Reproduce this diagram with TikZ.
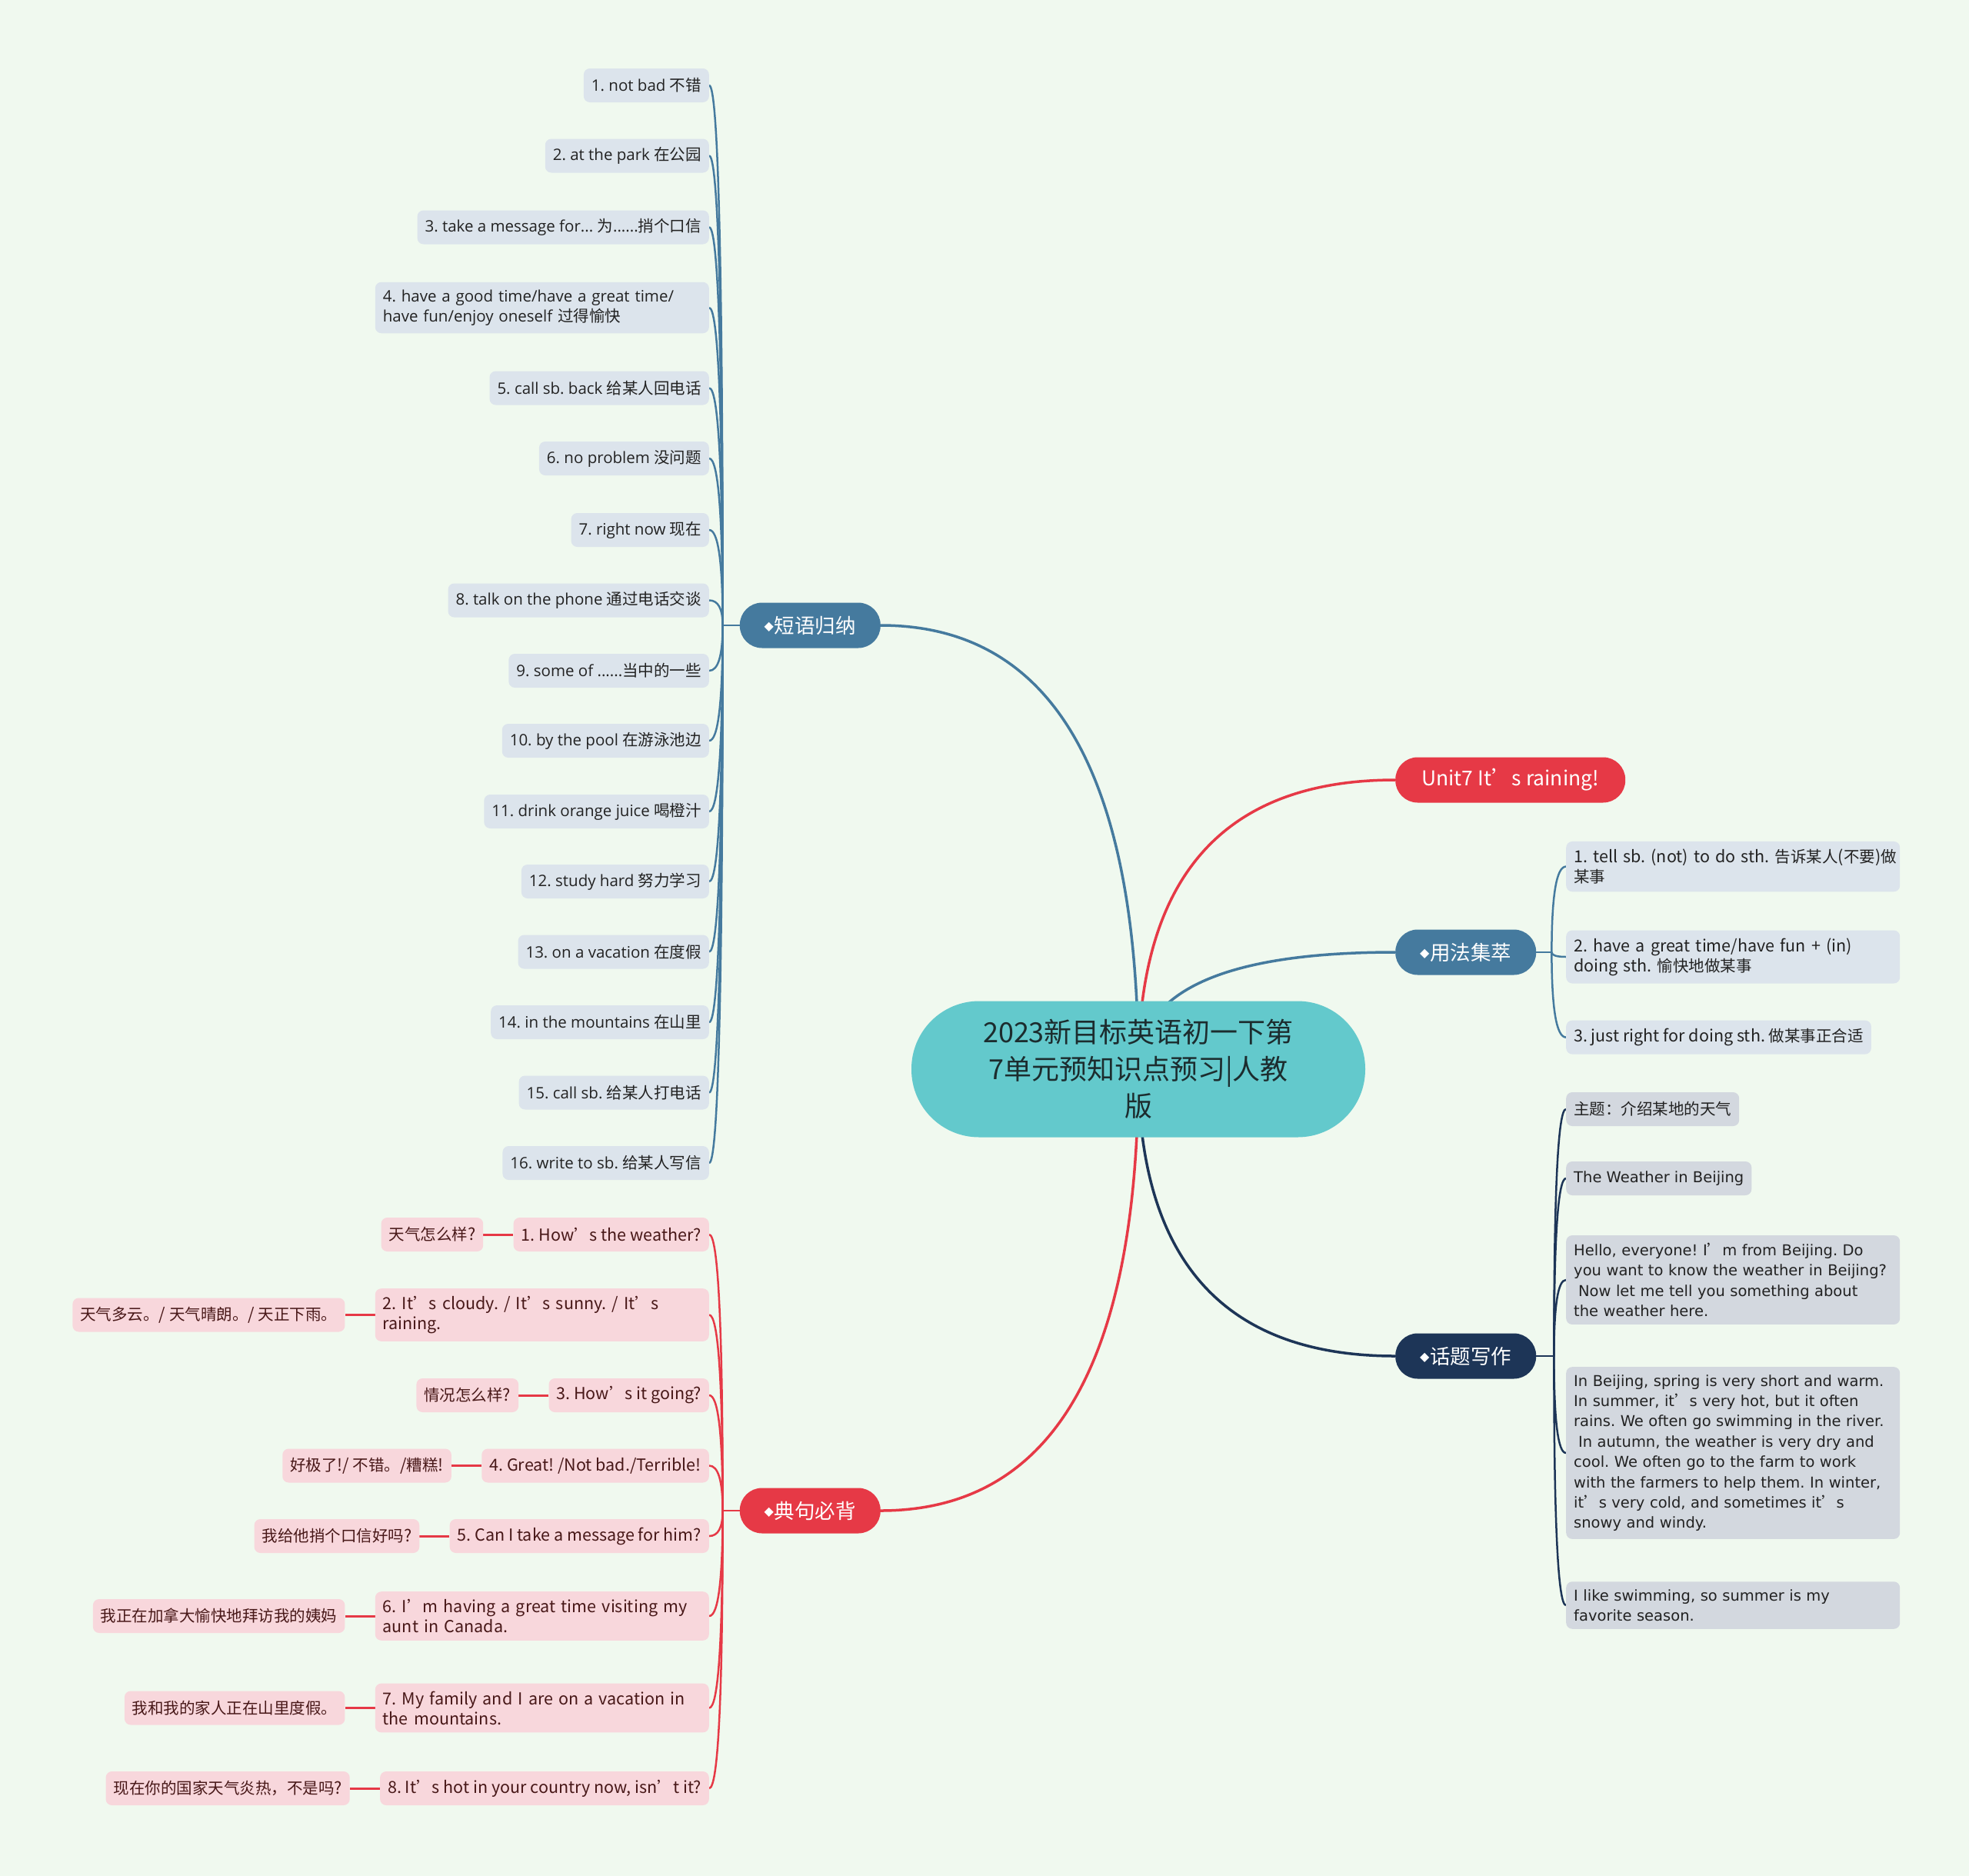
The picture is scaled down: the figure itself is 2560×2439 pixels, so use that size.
\documentclass[tikz,border=0pt]{standalone}
\usepackage{fontspec}
\setmainfont{Open Sans}
\newfontfamily\cjkf{Noto Sans CJK SC}
\newfontfamily\cjklat{Noto Sans CJK SC}[Scale=1.05]
\newfontfamily\osans{Open Sans}
\newfontfamily\djv{DejaVu Sans}
\usetikzlibrary{positioning,calc}
\pgfdeclarelayer{bg}
\pgfdeclarelayer{edges}
\pgfsetlayers{bg,edges,main}
\frenchspacing

% CJK characters switch to the CJK font by themselves
\XeTeXinterchartokenstate=1
\newXeTeXintercharclass\cjkcls
\newcount\cjkn
\newcommand\setcjk[2]{\cjkn=#1\relax
  \loop\XeTeXcharclass\cjkn=\cjkcls
  \ifnum\cjkn<#2\advance\cjkn by 1\repeat}
\setcjk{"3000}{"303F}
\setcjk{"4E00}{"9FFF}
\setcjk{"FF00}{"FFEF}
\XeTeXcharclass"2019=\cjkcls
\def\latf{\osans}
\XeTeXinterchartoks 0 \cjkcls={\cjkf}
\XeTeXinterchartoks 4095 \cjkcls={\cjkf}
\XeTeXinterchartoks \cjkcls 0={\latf}
\XeTeXinterchartoks \cjkcls 4095={\latf}

\definecolor{bgc}{RGB}{240,249,239}
\definecolor{rootc}{RGB}{99,201,204}
\definecolor{roottext}{RGB}{28,44,46}
\definecolor{bluec}{RGB}{69,122,158}
\definecolor{redc}{RGB}{230,57,70}
\definecolor{navyc}{RGB}{29,53,87}
\definecolor{leafblue}{RGB}{220,228,236}
\definecolor{leafgrey}{RGB}{211,216,223}
\definecolor{leafpink}{RGB}{248,215,220}
\definecolor{leaftext}{RGB}{34,34,34}
\definecolor{redtext}{RGB}{72,24,24}

\newcommand\leafsize{\fontsize{20.5}{26}\selectfont}
\newcommand\dm{\raisebox{3.5pt}{\djv\fontsize{16}{16}\selectfont ◆}\hspace{1pt}}
% quadratic curve from #2 to #3, bending at (#2 |- #3)
\newcommand\qlink[3][]{\draw[#1] (#2) .. controls ($(#2)!2/3!(#2|-#3)$) and ($(#3)!2/3!(#2|-#3)$) .. (#3);}

\tikzset{
  root/.style={fill=rootc, text=roottext, rounded corners=88pt,
    minimum width=590pt, minimum height=177pt, align=center,
    font={\fontsize{36}{48}\selectfont\cjkf\def\latf{\cjkf}}},
  branch/.style={text=white, rounded corners=29pt, minimum width=183pt,
    minimum height=59pt, inner xsep=22pt,
    font={\fontsize{26.5}{30}\selectfont\cjkf\def\latf{\cjkf}}},
  leaf/.style={text=leaftext, rounded corners=8pt, inner xsep=10pt,
    inner ysep=10pt, minimum height=44pt},
  leafb/.style={leaf, fill=leafblue, font={\leafsize\osans\def\latf{\osans}}},
  leafu/.style={leaf, fill=leafblue, font={\leafsize\cjklat\def\latf{\cjklat}}},
  leafw/.style={leaf, fill=leafgrey,
    font={\fontsize{19.5}{26.4}\selectfont\djv\def\latf{\djv}}},
  leafr/.style={leaf, fill=leafpink, text=redtext,
    font={\leafsize\cjklat\def\latf{\cjklat}}},
  wide/.style={text width=414pt, align=left},
  trunk/.style={line width=3.5pt},
  twig/.style={line width=2.5pt}
}

\begin{document}
\begin{tikzpicture}[x=1pt, y=-1pt]
  \begin{pgfonlayer}{bg}
    \fill[bgc] (0,0) rectangle (2560,2439);
  \end{pgfonlayer}
  \useasboundingbox (0,0) rectangle (2560,2439);

  % centre and main branches
  \node[root] (root) at (1480,1390) {2023新目标英语初一下第\\7单元预知识点预习|人教\\版};
  \node[branch, fill=bluec, anchor=east] (dy) at (1145,813) {\dm{}短语归纳};
  \node[branch, fill=redc, anchor=west, minimum width=299pt] (unit) at (1814,1014) {Unit7 It’s raining!};
  \node[branch, fill=bluec, anchor=west] (yf) at (1814,1238) {\dm{}用法集萃};
  \node[branch, fill=navyc, anchor=west] (ht) at (1814,1763) {\dm{}话题写作};
  \node[branch, fill=redc, anchor=east] (dj) at (1145,1964) {\dm{}典句必背};

  % 短语归纳
  \foreach \t/\y [count=\i] in {{1. not bad 不错}/111, {2. at the park 在公园}/202.5,
      {3. take a message for... 为......捎个口信}/295.5, {}/400,
      {5. call sb. back 给某人回电话}/504.5, {6. no problem 没问题}/596,
      {7. right now 现在}/689, {8. talk on the phone 通过电话交谈}/780.5,
      {9. some of ......当中的一些}/872, {10. by the pool 在游泳池边}/963,
      {11. drink orange juice 喝橙汁}/1055, {12. study hard 努力学习}/1146,
      {13. on a vacation 在度假}/1237.5, {14. in the mountains 在山里}/1329,
      {15. call sb. 给某人打电话}/1420.5, {16. write to sb. 给某人写信}/1512}
    {\ifnum\i=4\else\node[leafb, anchor=east] (d\i) at (922,\y) {\t};\fi}
  \node[leafb, wide, anchor=east] (d4) at (922,400)
    {4. have a good time/have a great time/\\have fun/enjoy oneself 过得愉快};

  % 用法集萃
  \node[leafu, wide, anchor=west] (u1) at (2036,1126.6)
    {\mbox{1. tell sb. (not) to do sth. 告诉某人(不要)做}\\某事};
  \node[leafu, wide, anchor=west] (u2) at (2036,1244)
    {2. have a great time/have fun + (in)\\doing sth. 愉快地做某事};
  \node[leafu, anchor=west] (u3) at (2036,1348.6) {3. just right for doing sth. 做某事正合适};

  % 话题写作
  \node[leafw, anchor=west, font={\leafsize\cjkf}] (w1) at (2036,1442) {主题：介绍某地的天气};
  \node[leafw, anchor=west] (w2) at (2036,1532) {The Weather in Beijing};
  \node[leafw, wide, anchor=west] (w3) at (2036,1664)
    {Hello, everyone! I’m from Beijing. Do\\you want to know the weather in Beijing?\\
     \hspace*{0.3em}Now let me tell you something about\\the weather here.};
  \node[leafw, wide, anchor=west] (w4) at (2036,1889)
    {In Beijing, spring is very short and warm.\\In summer, it’s very hot, but it often\\
     rains. We often go swimming in the river.\\\hspace*{0.3em}In autumn, the weather is very dry and\\
     cool. We often go to the farm to work\\with the farmers to help them. In winter,\\
     it’s very cold, and sometimes it’s\\snowy and windy.};
  \node[leafw, wide, anchor=west] (w5) at (2036,2087)
    {I like swimming, so summer is my\\favorite season.};

  % 典句必背
  \node[leafr, anchor=east] (e1) at (922,1605) {1. How’s the weather?};
  \node[leafr, left=39pt of e1] (c1) {天气怎么样?};
  \node[leafr, wide, anchor=east] (e2) at (922,1709.5) {2. It’s cloudy. / It’s sunny. / It’s\\raining.};
  \node[leafr, left=39pt of e2] (c2) {天气多云。/ 天气晴朗。/ 天正下雨。};
  \node[leafr, anchor=east] (e3) at (922,1814) {3. How’s it going?};
  \node[leafr, left=39pt of e3] (c3) {情况怎么样?};
  \node[leafr, anchor=east] (e4) at (922,1905.5) {4. Great! /Not bad./Terrible!};
  \node[leafr, left=39pt of e4] (c4) {好极了!/ 不错。/糟糕!};
  \node[leafr, anchor=east] (e5) at (922,1997) {5. Can I take a message for him?};
  \node[leafr, left=39pt of e5] (c5) {我给他捎个口信好吗?};
  \node[leafr, wide, anchor=east] (e6) at (922,2101) {6. I’m having a great time visiting my\\aunt in Canada.};
  \node[leafr, left=39pt of e6] (c6) {我正在加拿大愉快地拜访我的姨妈};
  \node[leafr, wide, anchor=east] (e7) at (922,2220.5) {7. My family and I are on a vacation in\\the mountains.};
  \node[leafr, left=39pt of e7] (c7) {我和我的家人正在山里度假。};
  \node[leafr, anchor=east] (e8) at (922,2325) {8. It’s hot in your country now, isn’t it?};
  \node[leafr, left=39pt of e8] (c8) {现在你的国家天气炎热，不是吗?};

  \coordinate (jdy) at ($(dy.west)+(-22,0)$);
  \coordinate (jyf) at ($(yf.east)+(20,0)$);
  \coordinate (jht) at ($(ht.east)+(23,0)$);
  \coordinate (jdj) at ($(dj.west)+(-22,0)$);

  \begin{pgfonlayer}{edges}
    \qlink[bluec, trunk]{root.center}{dy.east}
    \qlink[redc, trunk]{root.center}{unit.west}
    \qlink[bluec, trunk]{root.center}{yf.west}
    \qlink[navyc, trunk]{root.center}{ht.west}
    \qlink[redc, trunk]{root.center}{dj.east}
    \draw[bluec, twig] (dy.west) -- (jdy);
    \foreach \i in {1,...,16} {\qlink[bluec, twig]{jdy}{d\i.east}}
    \draw[bluec, twig] (yf.east) -- (jyf);
    \foreach \i in {1,2,3} {\qlink[bluec, twig]{jyf}{u\i.west}}
    \draw[navyc, twig] (ht.east) -- (jht);
    \foreach \i in {1,...,5} {\qlink[navyc, twig]{jht}{w\i.west}}
    \draw[redc, twig] (dj.west) -- (jdj);
    \foreach \i in {1,...,8} {
      \qlink[redc, twig]{jdj}{e\i.east}
      \draw[redc, line width=3pt] (e\i.west) -- (c\i.east);
    }
  \end{pgfonlayer}
\end{tikzpicture}
\end{document}
